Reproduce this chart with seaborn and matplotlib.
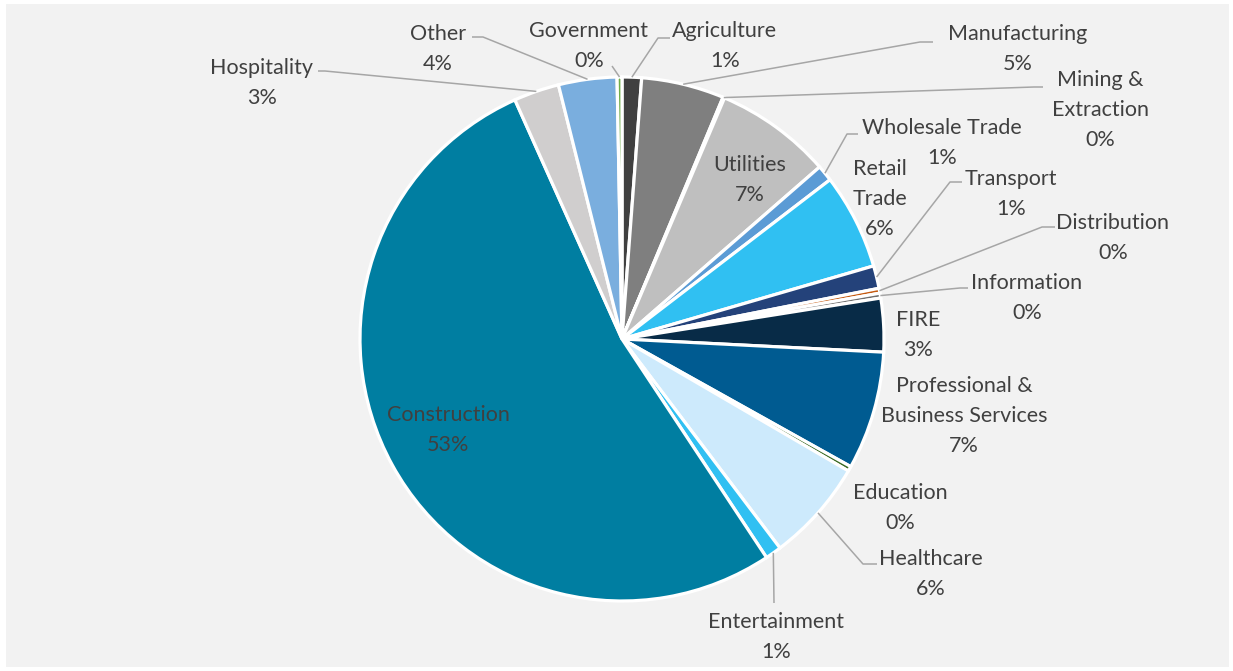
import numpy as np
import matplotlib
matplotlib.use("Agg")
import matplotlib.pyplot as plt
from matplotlib.patches import Rectangle
import seaborn as sns

# Share of establishments by industry (percent), clockwise from 12 o'clock
industries = [
    "Agriculture", "Manufacturing", "Mining &\nExtraction", "Utilities",
    "Wholesale Trade", "Retail\nTrade", "Transport", "Distribution",
    "Information", "FIRE", "Professional &\nBusiness Services", "Education",
    "Healthcare", "Entertainment", "Construction", "Hospitality", "Other",
    "Government",
]
shares = [1.2, 5.1, 0.1, 7.2, 1.0, 5.9, 1.4, 0.3, 0.3, 3.3, 7.3, 0.3,
          6.3, 1.0, 52.6, 2.8, 3.6, 0.3]
colors = [
    "#404040", "#7f7f7f", "#a5a5a5", "#bfbfbf", "#5b9bd5", "#30c0f2",
    "#24427a", "#c55a11", "#6f6f6f", "#082b47", "#005b91", "#3b6a23",
    "#cdeafc", "#30c0f2", "#007ea1", "#d0cece", "#7aaede", "#70ad47",
]

W, H = 1233, 671
sns.set_theme(style="white")
plt.rcParams["font.family"] = ["Lato", "DejaVu Sans"]

fig = plt.figure(figsize=(W / 100, H / 100), dpi=100, facecolor="white")
ax = fig.add_axes([0, 0, 1, 1])

# chart area
ax.add_patch(Rectangle((6, H - 667), 1223, 663, facecolor="#f2f2f2",
                       edgecolor="none", zorder=0))

cx, cy, R = 622, H - 339, 262
palette = sns.color_palette(colors)
wedges, _ = ax.pie(
    shares, colors=palette, startangle=90, counterclock=False,
    center=(cx, cy), radius=R, frame=True,
    wedgeprops=dict(edgecolor="white", linewidth=2.3),
)
ax.set_xlim(0, W)
ax.set_ylim(0, H)
ax.set_aspect("equal")
ax.axis("off")

total = sum(shares)
pcts = [f"{v / total * 100:.0f}%" for v in shares]

# label block centres (x, y from top)
label_pos = {
    "Agriculture": (725, 46),
    "Manufacturing": (1018, 49),
    "Mining &\nExtraction": (1100, 110),
    "Utilities": (750, 180),
    "Wholesale Trade": (942, 143),
    "Retail\nTrade": (880, 199),
    "Transport": (1011, 194),
    "Distribution": (1113, 238),
    "Information": (1027, 298),
    "FIRE": (918, 335),
    "Professional &\nBusiness Services": (964, 416),
    "Education": (900, 508),
    "Healthcare": (931, 574),
    "Entertainment": (776, 637),
    "Construction": (448, 430),
    "Hospitality": (262, 83),
    "Other": (438, 49),
    "Government": (589, 46),
}
# leader line bends (x, y from top) ending at the label
leaders = {
    "Hospitality": [(325, 71), (318, 71)],
    "Other": [(483, 37), (472, 37)],
    "Government": [(612, 66)],
    "Agriculture": [(658, 38), (670, 38)],
    "Manufacturing": [(920, 42), (933, 42)],
    "Mining &\nExtraction": [(1034, 87), (1043, 87)],
    "Wholesale Trade": [(847, 134), (858, 134)],
    "Transport": [(950, 182), (962, 182)],
    "Distribution": [(1042, 227), (1055, 227)],
    "Information": [(960, 288), (968, 288)],
    "Healthcare": [(863, 564), (877, 564)],
    "Entertainment": [(774, 603)],
}

text_color = "#404040"
cum = 0.0
for name, v, pct in zip(industries, shares, pcts):
    mid = (cum + v / 2) / total * 2 * np.pi
    cum += v
    if name in leaders:
        sx = cx + R * np.sin(mid)
        sy = cy + R * np.cos(mid)
        xs = [sx] + [p[0] for p in leaders[name]]
        ys = [sy] + [H - p[1] for p in leaders[name]]
        ax.plot(xs, ys, color="#a6a6a6", lw=1.1, zorder=3,
                solid_capstyle="butt")
    lx, ly = label_pos[name]
    ax.text(lx, H - ly, f"{name}\n{pct}", ha="center", va="center",
            fontsize=15.5, color=text_color, linespacing=1.6, zorder=4)

fig.savefig("out.png", dpi=100, facecolor=fig.get_facecolor())
